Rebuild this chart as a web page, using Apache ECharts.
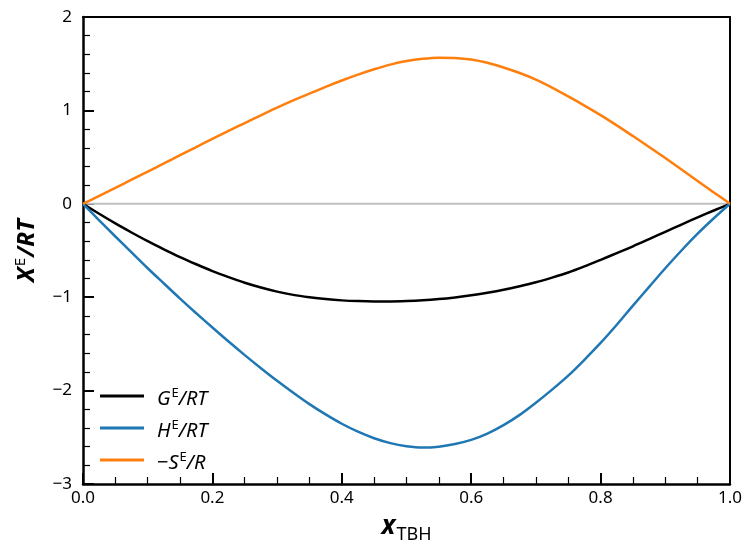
<!DOCTYPE html>
<html>
<head>
<meta charset="utf-8">
<script src="https://cdn.jsdelivr.net/npm/echarts@6/dist/echarts.min.js"></script>
<style>html,body{margin:0;padding:0;background:#fff}#c{width:745px;height:549px}</style>
</head>
<body>
<div id="c"></div>
<script>
const xValues = [0, 0.025, 0.05, 0.075, 0.10, 0.125, 0.15, 0.175, 0.20, 0.225, 0.25, 0.275, 0.30, 0.325, 0.35, 0.375, 0.40, 0.425, 0.45, 0.475, 0.50,
                 0.525, 0.55, 0.575, 0.60, 0.625, 0.65, 0.675, 0.70, 0.725, 0.75, 0.775, 0.80, 0.825, 0.85, 0.875, 0.90, 0.925, 0.95, 0.975, 1.00];
const gE    = [0, -0.107, -0.21, -0.307, -0.40, -0.487, -0.57, -0.647, -0.72, -0.785, -0.845, -0.896, -0.94, -0.975, -1.00, -1.02, -1.034, -1.042, -1.045, -1.045, -1.041,
               -1.033, -1.02, -1.002, -0.98, -0.952, -0.92, -0.882, -0.84, -0.79, -0.735, -0.67, -0.60, -0.528, -0.455, -0.378, -0.30, -0.222, -0.146, -0.072, 0];
const hE    = [0, -0.177, -0.35, -0.52, -0.69, -0.853, -1.015, -1.172, -1.325, -1.475, -1.62, -1.76, -1.895, -2.023, -2.145, -2.255, -2.355, -2.44, -2.51, -2.562, -2.595,
               -2.61, -2.60, -2.572, -2.528, -2.46, -2.37, -2.26, -2.13, -1.99, -1.84, -1.67, -1.49, -1.295, -1.09, -0.89, -0.69, -0.50, -0.32, -0.155, 0];
const negSE = [0, 0.085, 0.17, 0.258, 0.345, 0.432, 0.52, 0.608, 0.695, 0.78, 0.865, 0.948, 1.03, 1.107, 1.18, 1.252, 1.32, 1.383, 1.44, 1.49, 1.528,
               1.553, 1.565, 1.562, 1.545, 1.51, 1.46, 1.40, 1.33, 1.245, 1.15, 1.052, 0.95, 0.84, 0.725, 0.608, 0.49, 0.368, 0.245, 0.122, 0];
const zeroX = [0, 1];
const zeroY = [0, 0];
const seriesNames = ['G', 'H', 'S'];

const pair = (xs, ys) => xs.map((x, i) => [x, ys[i]]);
const FONT = '"Noto Sans", "Open Sans", sans-serif';

const chart = echarts.init(document.getElementById('c'), null, {renderer: 'canvas'});
const legendRich = {
  i: {fontFamily: FONT, fontSize: 20, fontStyle: 'italic', color: '#000', verticalAlign: 'bottom'},
  u: {fontFamily: FONT, fontSize: 20, color: '#000', verticalAlign: 'bottom'},
  s: {fontFamily: FONT, fontSize: 13, color: '#000', verticalAlign: 'bottom', padding: [0, 0, 9, 1]}
};
const legendLabels = {
  G: '{i|G}{s|E}{i|/RT}',
  H: '{i|H}{s|E}{i|/RT}',
  S: '{u|−}{i|S}{s|E}{i|/R}'
};

chart.setOption({
  animation: false,
  backgroundColor: '#fff',
  grid: {left: 83, right: 14, top: 17, bottom: 62, containLabel: false},
  legend: {
    orient: 'vertical',
    left: 95,
    top: 378,
    itemWidth: 44,
    itemHeight: 3,
    itemGap: 6,
    icon: 'rect',
    data: seriesNames,
    formatter: n => legendLabels[n],
    textStyle: {rich: legendRich, padding: [0, 0, 0, 8], lineHeight: 26}
  },
  xAxis: [{
    type: 'value', min: 0, max: 1, interval: 0.2,
    name: '{a|x}{b|TBH}',
    nameLocation: 'middle', nameGap: 30,
    nameTextStyle: {rich: {
      a: {fontFamily: FONT, fontSize: 26, fontWeight: 'bold', fontStyle: 'italic', color: '#000', verticalAlign: 'bottom', padding: [0, 1, 4, 0]},
      b: {fontFamily: FONT, fontSize: 18, color: '#000', verticalAlign: 'bottom'}
    }},
    axisLine: {onZero: false, lineStyle: {color: '#000', width: 2.5}},
    axisTick: {inside: true, length: 11, lineStyle: {color: '#000', width: 2}},
    minorTick: {show: true, splitNumber: 4, length: 7, lineStyle: {color: '#000', width: 1.2}},
    splitLine: {show: false},
    axisLabel: {margin: 6, fontFamily: FONT, fontSize: 17, color: '#000', formatter: v => v.toFixed(1)}
  }, {
    type: 'value', min: 0, max: 1, position: 'top',
    axisLine: {onZero: false, lineStyle: {color: '#000', width: 2}},
    axisTick: {show: false}, axisLabel: {show: false}, splitLine: {show: false}
  }],
  yAxis: [{
    type: 'value', min: -3, max: 2, interval: 1,
    name: '{x|X}{s|E}{x|/RT}',
    nameLocation: 'middle', nameGap: 44,
    nameTextStyle: {rich: {
      x: {fontFamily: FONT, fontSize: 24, fontWeight: 'bold', fontStyle: 'italic', color: '#000', verticalAlign: 'bottom'},
      s: {fontFamily: FONT, fontSize: 15, color: '#000', verticalAlign: 'bottom', padding: [0, 1, 11, 1]}
    }},
    axisLine: {onZero: false, lineStyle: {color: '#000', width: 2.5}},
    axisTick: {inside: true, length: 11, lineStyle: {color: '#000', width: 2}},
    minorTick: {show: true, splitNumber: 5, length: 7, lineStyle: {color: '#000', width: 1.2}},
    splitLine: {show: false},
    axisLabel: {margin: 11, fontFamily: FONT, fontSize: 17, color: '#000', formatter: v => String(v).replace('-', '−')}
  }, {
    type: 'value', min: -3, max: 2, position: 'right',
    axisLine: {onZero: false, lineStyle: {color: '#000', width: 2}},
    axisTick: {show: false}, axisLabel: {show: false}, splitLine: {show: false}
  }],
  series: [
    {name: 'zero', type: 'line', data: pair(zeroX, zeroY), symbol: 'none', silent: true,
     lineStyle: {color: '#c0c0c0', width: 2}, z: 1},
    {name: 'G', type: 'line', data: pair(xValues, gE), symbol: 'none', smooth: 0.3,
     color: '#000000', lineStyle: {color: '#000000', width: 2.5}, z: 3},
    {name: 'H', type: 'line', data: pair(xValues, hE), symbol: 'none', smooth: 0.3,
     color: '#1f77b4', lineStyle: {color: '#1f77b4', width: 2.5}, z: 3},
    {name: 'S', type: 'line', data: pair(xValues, negSE), symbol: 'none', smooth: 0.3,
     color: '#ff7f0e', lineStyle: {color: '#ff7f0e', width: 2.5}, z: 3}
  ]
});
</script>
</body>
</html>
